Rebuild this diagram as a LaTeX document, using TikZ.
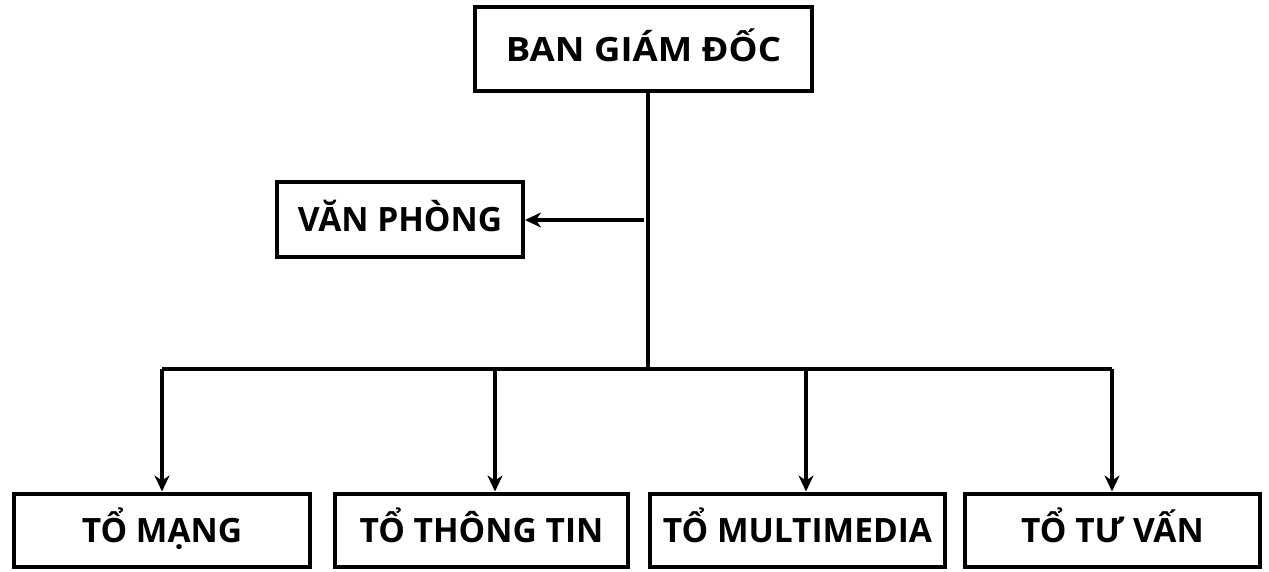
\documentclass[tikz,border=0pt]{standalone}
\usepackage{fontspec}
\setmainfont{Open Sans}
\newfontfamily\topfont{Open Sans}[FakeStretch=1.09]
\usetikzlibrary{arrows.meta}
\begin{document}
\begin{tikzpicture}[x=1pt,y=-1pt,
  box/.style={draw=black, line width=4pt, inner sep=0pt, font=\fontsize{33.5}{38}\selectfont\bfseries, text=black, text height=24pt, text depth=0pt},
  conn/.style={line width=4pt, draw=black},
  arr/.style={conn, -{Stealth[length=16pt,width=15pt,inset=5pt]}}]
\useasboundingbox (0,0) rectangle (1269,571);
\node[box, minimum width=337pt, minimum height=84pt] (bgd) at (643.5,49) {\topfont\bfseries BAN GIÁM ĐỐC};
\node[box, minimum width=246pt, minimum height=75pt] (vp) at (400,219.5) {VĂN PHÒNG};
\node[box, minimum width=296pt, minimum height=73pt] (b1) at (162,530) {TỔ MẠNG};
\node[box, minimum width=293pt, minimum height=73pt] (b2) at (481.5,530) {TỔ THÔNG TIN};
\node[box, minimum width=295pt, minimum height=73pt] (b3) at (797.5,530) {TỔ MULTIMEDIA};
\node[box, minimum width=295pt, minimum height=73pt] (b4) at (1112.5,530) {TỔ TƯ VẤN};
\coordinate (tr) at (648,369);
\coordinate (vpj) at (644,220);
\coordinate (d1) at (162,369);
\coordinate (d2) at (495,369);
\coordinate (d3) at (806,369);
\coordinate (d4) at (1112,369);
\draw[conn] (bgd.south -| tr) -- (tr);
\draw[arr] (vpj) -- (vp.east |- vpj);
\draw[conn] (d1) -- (d4);
\draw[arr] (d1) -- (b1.north -| d1);
\draw[arr] (d2) -- (b2.north -| d2);
\draw[arr] (d3) -- (b3.north -| d3);
\draw[arr] (d4) -- (b4.north -| d4);
\end{tikzpicture}
\end{document}
